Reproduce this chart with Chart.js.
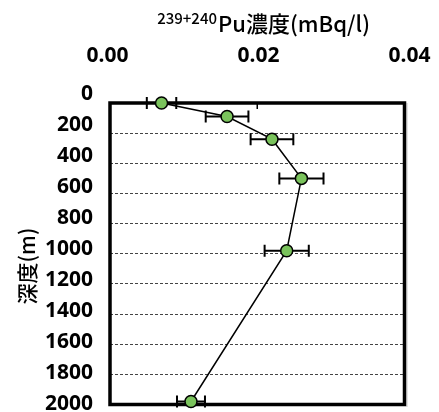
<!DOCTYPE html>
<html>
<head>
<meta charset="utf-8">
<script src="https://cdn.jsdelivr.net/npm/chart.js@4"></script>
<style>
html,body{margin:0;padding:0;background:#fff;}
#wrap{width:439px;height:412px;position:relative;}
</style>
</head>
<body>
<div id="wrap"><canvas id="c" width="439" height="412"></canvas></div>
<script>
// ---- data ----
const depths = [0, 90, 240, 500, 980, 1980];                       // m
const concentrations = [0.0070, 0.0159, 0.0220, 0.0260, 0.0240, 0.0110]; // mBq/l
const errors = [0.0020, 0.0029, 0.0029, 0.0030, 0.0030, 0.0019];
const xTickValues = [0, 0.02, 0.04];
const yTickValues = [0, 200, 400, 600, 800, 1000, 1200, 1400, 1600, 1800, 2000];
const xTitleSup = '239+240';
const xTitleMain = 'Pu濃度(mBq/l)';
const yTitle = '深度(m)';

const tickFont = {family: '"Noto Sans", sans-serif', size: 21, weight: 'bold'};

function noPad(s) {
  s.paddingLeft = 0; s.paddingRight = 0; s.paddingTop = 0; s.paddingBottom = 0;
}

const decor = {
  id: 'decor',
  beforeDatasetsDraw(chart) {
    const {ctx, chartArea: a, scales} = chart;
    const x = scales.x, y = scales.y;
    ctx.save();
    // faint shadow on right/bottom edge
    ctx.strokeStyle = '#c8c8c8';
    ctx.lineWidth = 1;
    ctx.beginPath();
    ctx.moveTo(a.right + 2.5, a.top); ctx.lineTo(a.right + 2.5, a.bottom + 2.5);
    ctx.stroke();
    ctx.strokeStyle = '#000';
    ctx.lineWidth = 3.5;
    ctx.strokeRect(a.left, a.top, a.right - a.left, a.bottom - a.top);
    // inner tick marks on top axis
    ctx.lineWidth = 1.5;
    xTickValues.slice(1, -1).forEach(v => {
      const tx = x.getPixelForValue(v);
      ctx.beginPath(); ctx.moveTo(tx, a.top); ctx.lineTo(tx, a.top + 6); ctx.stroke();
    });
    // error bars
    ctx.lineWidth = 2;
    depths.forEach((d, i) => {
      const py = y.getPixelForValue(d);
      const x1 = x.getPixelForValue(concentrations[i] - errors[i]);
      const x2 = x.getPixelForValue(concentrations[i] + errors[i]);
      ctx.beginPath();
      ctx.moveTo(x1, py); ctx.lineTo(x2, py);
      ctx.moveTo(x1, py - 6); ctx.lineTo(x1, py + 6);
      ctx.moveTo(x2, py - 6); ctx.lineTo(x2, py + 6);
      ctx.stroke();
    });
    ctx.restore();
  },
  afterDraw(chart) {
    const ctx = chart.ctx;
    ctx.save();
    ctx.fillStyle = '#000';
    ctx.textBaseline = 'alphabetic';
    ctx.font = '500 15px "Noto Sans CJK JP", sans-serif';
    ctx.textAlign = 'right';
    ctx.fillText(xTitleSup, 217, 23.5);
    ctx.font = '500 22px "Noto Sans CJK JP", sans-serif';
    ctx.textAlign = 'left';
    ctx.fillText(xTitleMain, 218, 32);
    ctx.font = '500 21px "Noto Sans CJK JP", sans-serif';
    ctx.translate(27.5, 266);
    ctx.rotate(-Math.PI / 2);
    ctx.textAlign = 'center';
    ctx.textBaseline = 'middle';
    ctx.fillText(yTitle, 0, 0);
    ctx.restore();
  }
};

new Chart(document.getElementById('c'), {
  type: 'scatter',
  data: {
    datasets: [{
      data: depths.map((d, i) => ({x: concentrations[i], y: d})),
      showLine: true,
      borderColor: '#000',
      borderWidth: 1.5,
      pointRadius: 6,
      pointBackgroundColor: '#7ac35c',
      pointBorderColor: '#000',
      pointBorderWidth: 1.5,
      clip: false,
      xAxisID: 'x',
      yAxisID: 'y'
    }]
  },
  options: {
    responsive: false,
    animation: false,
    devicePixelRatio: 1,
    layout: {padding: {left: 0, top: 0, right: 34.5, bottom: 7}},
    plugins: {legend: {display: false}, tooltip: {enabled: false}},
    scales: {
      x: {
        type: 'linear', position: 'top', min: 0, max: 0.04,
        grid: {display: false}, border: {display: false},
        ticks: {display: false},
        afterFit: s => { s.height = 0; noPad(s); }
      },
      xl: {
        type: 'linear', position: 'top', min: 0.0003311, max: 0.0393381,
        grid: {display: false, drawTicks: false}, border: {display: false},
        afterBuildTicks: s => { s.ticks = xTickValues.map(v => ({value: v})); },
        ticks: {font: tickFont, color: '#000', padding: 34.5, autoSkip: false, maxRotation: 0,
                callback: v => Number(v).toFixed(2)},
        afterFit: s => { s.height = 103; noPad(s); }
      },
      y: {
        type: 'linear', position: 'left', reverse: true, min: 0, max: 2000,
        ticks: {display: false, stepSize: 200},
        grid: {color: '#444', lineWidth: 1, drawTicks: false},
        border: {display: false, dash: [3, 2]},
        afterFit: s => { s.width = 0; noPad(s); }
      },
      yl: {
        type: 'linear', position: 'left', reverse: true, min: 59.85, max: 2003.2,
        grid: {display: false, drawTicks: false}, border: {display: false},
        afterBuildTicks: s => { s.ticks = yTickValues.map(v => ({value: v})); },
        ticks: {font: tickFont, color: '#000', padding: 17, autoSkip: false,
                callback: v => String(v)},
        afterFit: s => { s.width = 110; noPad(s); }
      }
    }
  },
  plugins: [decor]
});
</script>
</body>
</html>
